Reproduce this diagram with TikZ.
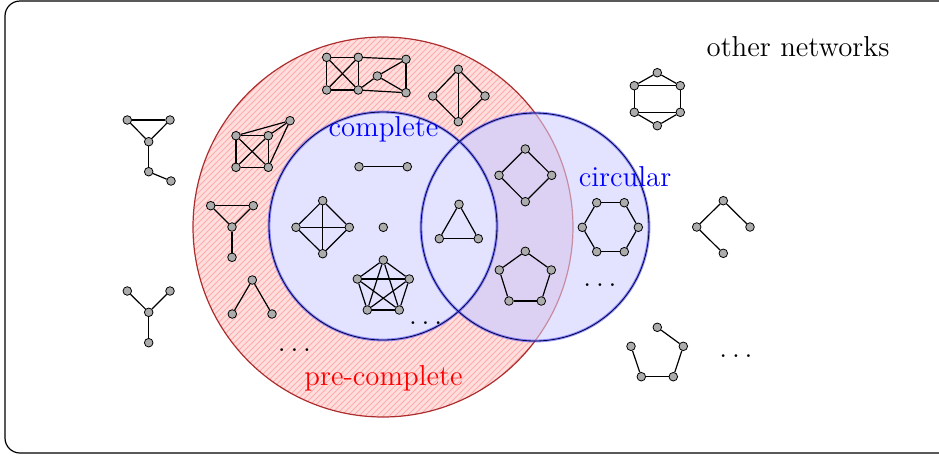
\documentclass[tikz,border=0pt]{standalone}
\usetikzlibrary{patterns}
\begin{document}
\begin{tikzpicture}[x=0.5pt,y=-0.5pt,
  main/.style={draw,circle,fill=gray!65,inner sep=0pt,minimum size=4.3pt,line width=0.4pt},
  edge/.style={line width=0.6pt},
  lbl/.style={font=\Large,inner sep=0pt},
  blueset/.style={fill=blue!11},
  blueline/.style={draw=blue!70,line width=1.4pt,draw opacity=0.6},
  blueinner/.style={draw=blue!25!black,line width=0.4pt}]
\useasboundingbox (0,0) rectangle (939,457);
% frame
\draw[line width=0.6pt,rounded corners=7.5pt] (5,453) -- (5,1) -- (980,1) -- (980,453) -- cycle;
% sets
\fill[red!13] (383,227) circle (190);
\path[pattern=north east lines,pattern color=red!32] (383,227) circle (190);
\draw[red!60!black,line width=0.6pt,draw opacity=0.8] (383,227) circle (190);
\fill[blueset] (535,227) circle (114);
\begin{scope}
  \clip (535,227) circle (114);
  \fill[red!60!blue,fill opacity=0.08] (383,227) circle (190);
  \draw[red!60!black,line width=0.6pt,draw opacity=0.35] (383,227) circle (190);
\end{scope}
\fill[blueset] (383,226) circle (114);
\draw[blueline] (383,226) circle (114);
\draw[blueinner] (383,226) circle (114);
\draw[blueline] (535,227) circle (114);
\draw[blueinner] (535,227) circle (114);
% labels
\node[lbl](other) at (798,47) {other networks};
\node[lbl,blue](compl) at (383.5,129) {complete};
\node[lbl,blue](circ) at (625,177) {circular};
\node[lbl,red](precompl) at (383.5,378) {pre-complete};
\node[lbl,anchor=base](dots1) at (294.5,351) {$\dots$};
\node[lbl,anchor=base](dots2) at (425.7,324) {$\dots$};
\node[lbl,anchor=base](dots3) at (600,286) {$\dots$};
\node[lbl,anchor=base](dots4) at (736,357) {$\dots$};
% pre-complete graphs
\node[main](a1) at (326.7,57.3) {};
\node[main](a2) at (358.3,57.3) {};
\node[main](a3) at (326.7,90) {};
\node[main](a4) at (358.3,90) {};
\node[main](a5) at (377.3,76) {};
\node[main](a6) at (406,59.3) {};
\node[main](a7) at (406,92.7) {};
\draw[edge](a1) -- (a2);
\draw[edge](a1) -- (a3);
\draw[edge](a2) -- (a4);
\draw[edge](a3) -- (a4);
\draw[edge](a1) -- (a4);
\draw[edge](a2) -- (a3);
\draw[edge](a2) -- (a6);
\draw[edge](a4) -- (a7);
\draw[edge](a6) -- (a7);
\draw[edge](a5) -- (a6);
\draw[edge](a5) -- (a7);
\draw[edge](a5) -- (a4);
\node[main](b1) at (458.3,69.3) {};
\node[main](b2) at (432.7,96) {};
\node[main](b3) at (485,96) {};
\node[main](b4) at (458.3,121.7) {};
\draw[edge](b1) -- (b2);
\draw[edge](b1) -- (b3);
\draw[edge](b2) -- (b4);
\draw[edge](b3) -- (b4);
\draw[edge](b1) -- (b4);
\node[main](d1) at (236,135.7) {};
\node[main](d2) at (268.3,135.7) {};
\node[main](d3) at (236,167.3) {};
\node[main](d4) at (268.3,167.3) {};
\node[main](d5) at (290,120.7) {};
\draw[edge](d1) -- (d2);
\draw[edge](d1) -- (d3);
\draw[edge](d2) -- (d4);
\draw[edge](d3) -- (d4);
\draw[edge](d1) -- (d4);
\draw[edge](d2) -- (d3);
\draw[edge](d5) -- (d1);
\draw[edge](d5) -- (d2);
\draw[edge](d5) -- (d4);
\node[main](e1) at (210.7,205.7) {};
\node[main](e2) at (253.3,205.7) {};
\node[main](e3) at (232,227) {};
\node[main](e4) at (232,257.3) {};
\draw[edge](e1) -- (e2);
\draw[edge](e1) -- (e3);
\draw[edge](e2) -- (e3);
\draw[edge](e3) -- (e4);
\node[main](g1) at (252.3,280) {};
\node[main](g2) at (232.3,314) {};
\node[main](g3) at (272,314) {};
\draw[edge](g1) -- (g2);
\draw[edge](g1) -- (g3);
% complete graphs
\node[main](h1) at (359,166.7) {};
\node[main](h2) at (407.3,166.7) {};
\draw[edge](h1) -- (h2);
\node[main](k1) at (322.7,200.7) {};
\node[main](k2) at (296,227.3) {};
\node[main](k3) at (349.3,227.3) {};
\node[main](k4) at (322.7,253.7) {};
\draw[edge](k1) -- (k2);
\draw[edge](k1) -- (k3);
\draw[edge](k2) -- (k4);
\draw[edge](k3) -- (k4);
\draw[edge](k1) -- (k4);
\draw[edge](k2) -- (k3);
\node[main](s1) at (383.3,227.3) {};
\node[main](p1) at (383.3,260) {};
\node[main](p2) at (357.3,279) {};
\node[main](p3) at (409.3,279) {};
\node[main](p4) at (367.3,310) {};
\node[main](p5) at (399.3,310) {};
\draw[edge](p1) -- (p2);
\draw[edge](p1) -- (p3);
\draw[edge](p1) -- (p4);
\draw[edge](p1) -- (p5);
\draw[edge](p2) -- (p3);
\draw[edge](p2) -- (p4);
\draw[edge](p2) -- (p5);
\draw[edge](p3) -- (p4);
\draw[edge](p3) -- (p5);
\draw[edge](p4) -- (p5);
\node[main](t1) at (459,204.3) {};
\node[main](t2) at (439.3,238.7) {};
\node[main](t3) at (478.3,238.7) {};
\draw[edge](t1) -- (t2);
\draw[edge](t1) -- (t3);
\draw[edge](t2) -- (t3);
% circular graphs
\node[main](q1) at (525.3,149) {};
\node[main](q2) at (499,175.3) {};
\node[main](q3) at (551.7,175.3) {};
\node[main](q4) at (525.3,201.7) {};
\draw[edge](q1) -- (q2);
\draw[edge](q1) -- (q3);
\draw[edge](q2) -- (q4);
\draw[edge](q3) -- (q4);
\node[main](r1) at (525.3,251.3) {};
\node[main](r2) at (499.3,270) {};
\node[main](r3) at (551.3,270) {};
\node[main](r4) at (509,301) {};
\node[main](r5) at (541.3,301) {};
\draw[edge](r1) -- (r2);
\draw[edge](r1) -- (r3);
\draw[edge](r2) -- (r4);
\draw[edge](r3) -- (r5);
\draw[edge](r4) -- (r5);
\node[main](u1) at (596.7,202.7) {};
\node[main](u2) at (624.3,202.7) {};
\node[main](u3) at (638.3,227.3) {};
\node[main](u4) at (624.3,251.7) {};
\node[main](u5) at (596.7,251.7) {};
\node[main](u6) at (582.3,227.3) {};
\draw[edge](u1) -- (u2);
\draw[edge](u2) -- (u3);
\draw[edge](u3) -- (u4);
\draw[edge](u4) -- (u5);
\draw[edge](u5) -- (u6);
\draw[edge](u6) -- (u1);
% other networks
\node[main](c1) at (127.3,120) {};
\node[main](c2) at (170,120) {};
\node[main](c3) at (148.7,141.7) {};
\node[main](c4) at (148.7,171.7) {};
\node[main](c5) at (171,181) {};
\draw[edge](c1) -- (c2);
\draw[edge](c1) -- (c3);
\draw[edge](c2) -- (c3);
\draw[edge](c3) -- (c4);
\draw[edge](c4) -- (c5);
\node[main](f1) at (127.3,291) {};
\node[main](f2) at (170,291) {};
\node[main](f3) at (148.7,312.3) {};
\node[main](f4) at (148.7,342.7) {};
\draw[edge](f3) -- (f1);
\draw[edge](f3) -- (f2);
\draw[edge](f3) -- (f4);
\node[main](v1) at (657.3,72.7) {};
\node[main](v2) at (634.3,85.7) {};
\node[main](v3) at (680.3,85.7) {};
\node[main](v4) at (634.3,112.3) {};
\node[main](v5) at (680.3,112.3) {};
\node[main](v6) at (657.3,125.7) {};
\draw[edge](v1) -- (v2);
\draw[edge](v1) -- (v3);
\draw[edge](v2) -- (v3);
\draw[edge](v2) -- (v4);
\draw[edge](v3) -- (v5);
\draw[edge](v4) -- (v5);
\draw[edge](v4) -- (v6);
\draw[edge](v5) -- (v6);
\node[main](w1) at (723.3,200.7) {};
\node[main](w2) at (696.7,227) {};
\node[main](w3) at (750,227) {};
\node[main](w4) at (723.3,253.3) {};
\draw[edge](w1) -- (w2);
\draw[edge](w1) -- (w3);
\draw[edge](w2) -- (w4);
\node[main](z1) at (657.3,327.3) {};
\node[main](z2) at (631,346.3) {};
\node[main](z3) at (683.3,346.3) {};
\node[main](z4) at (641.3,376.7) {};
\node[main](z5) at (673.3,376.7) {};
\draw[edge](z1) -- (z3);
\draw[edge](z3) -- (z5);
\draw[edge](z5) -- (z4);
\draw[edge](z4) -- (z2);
\end{tikzpicture}
\end{document}
